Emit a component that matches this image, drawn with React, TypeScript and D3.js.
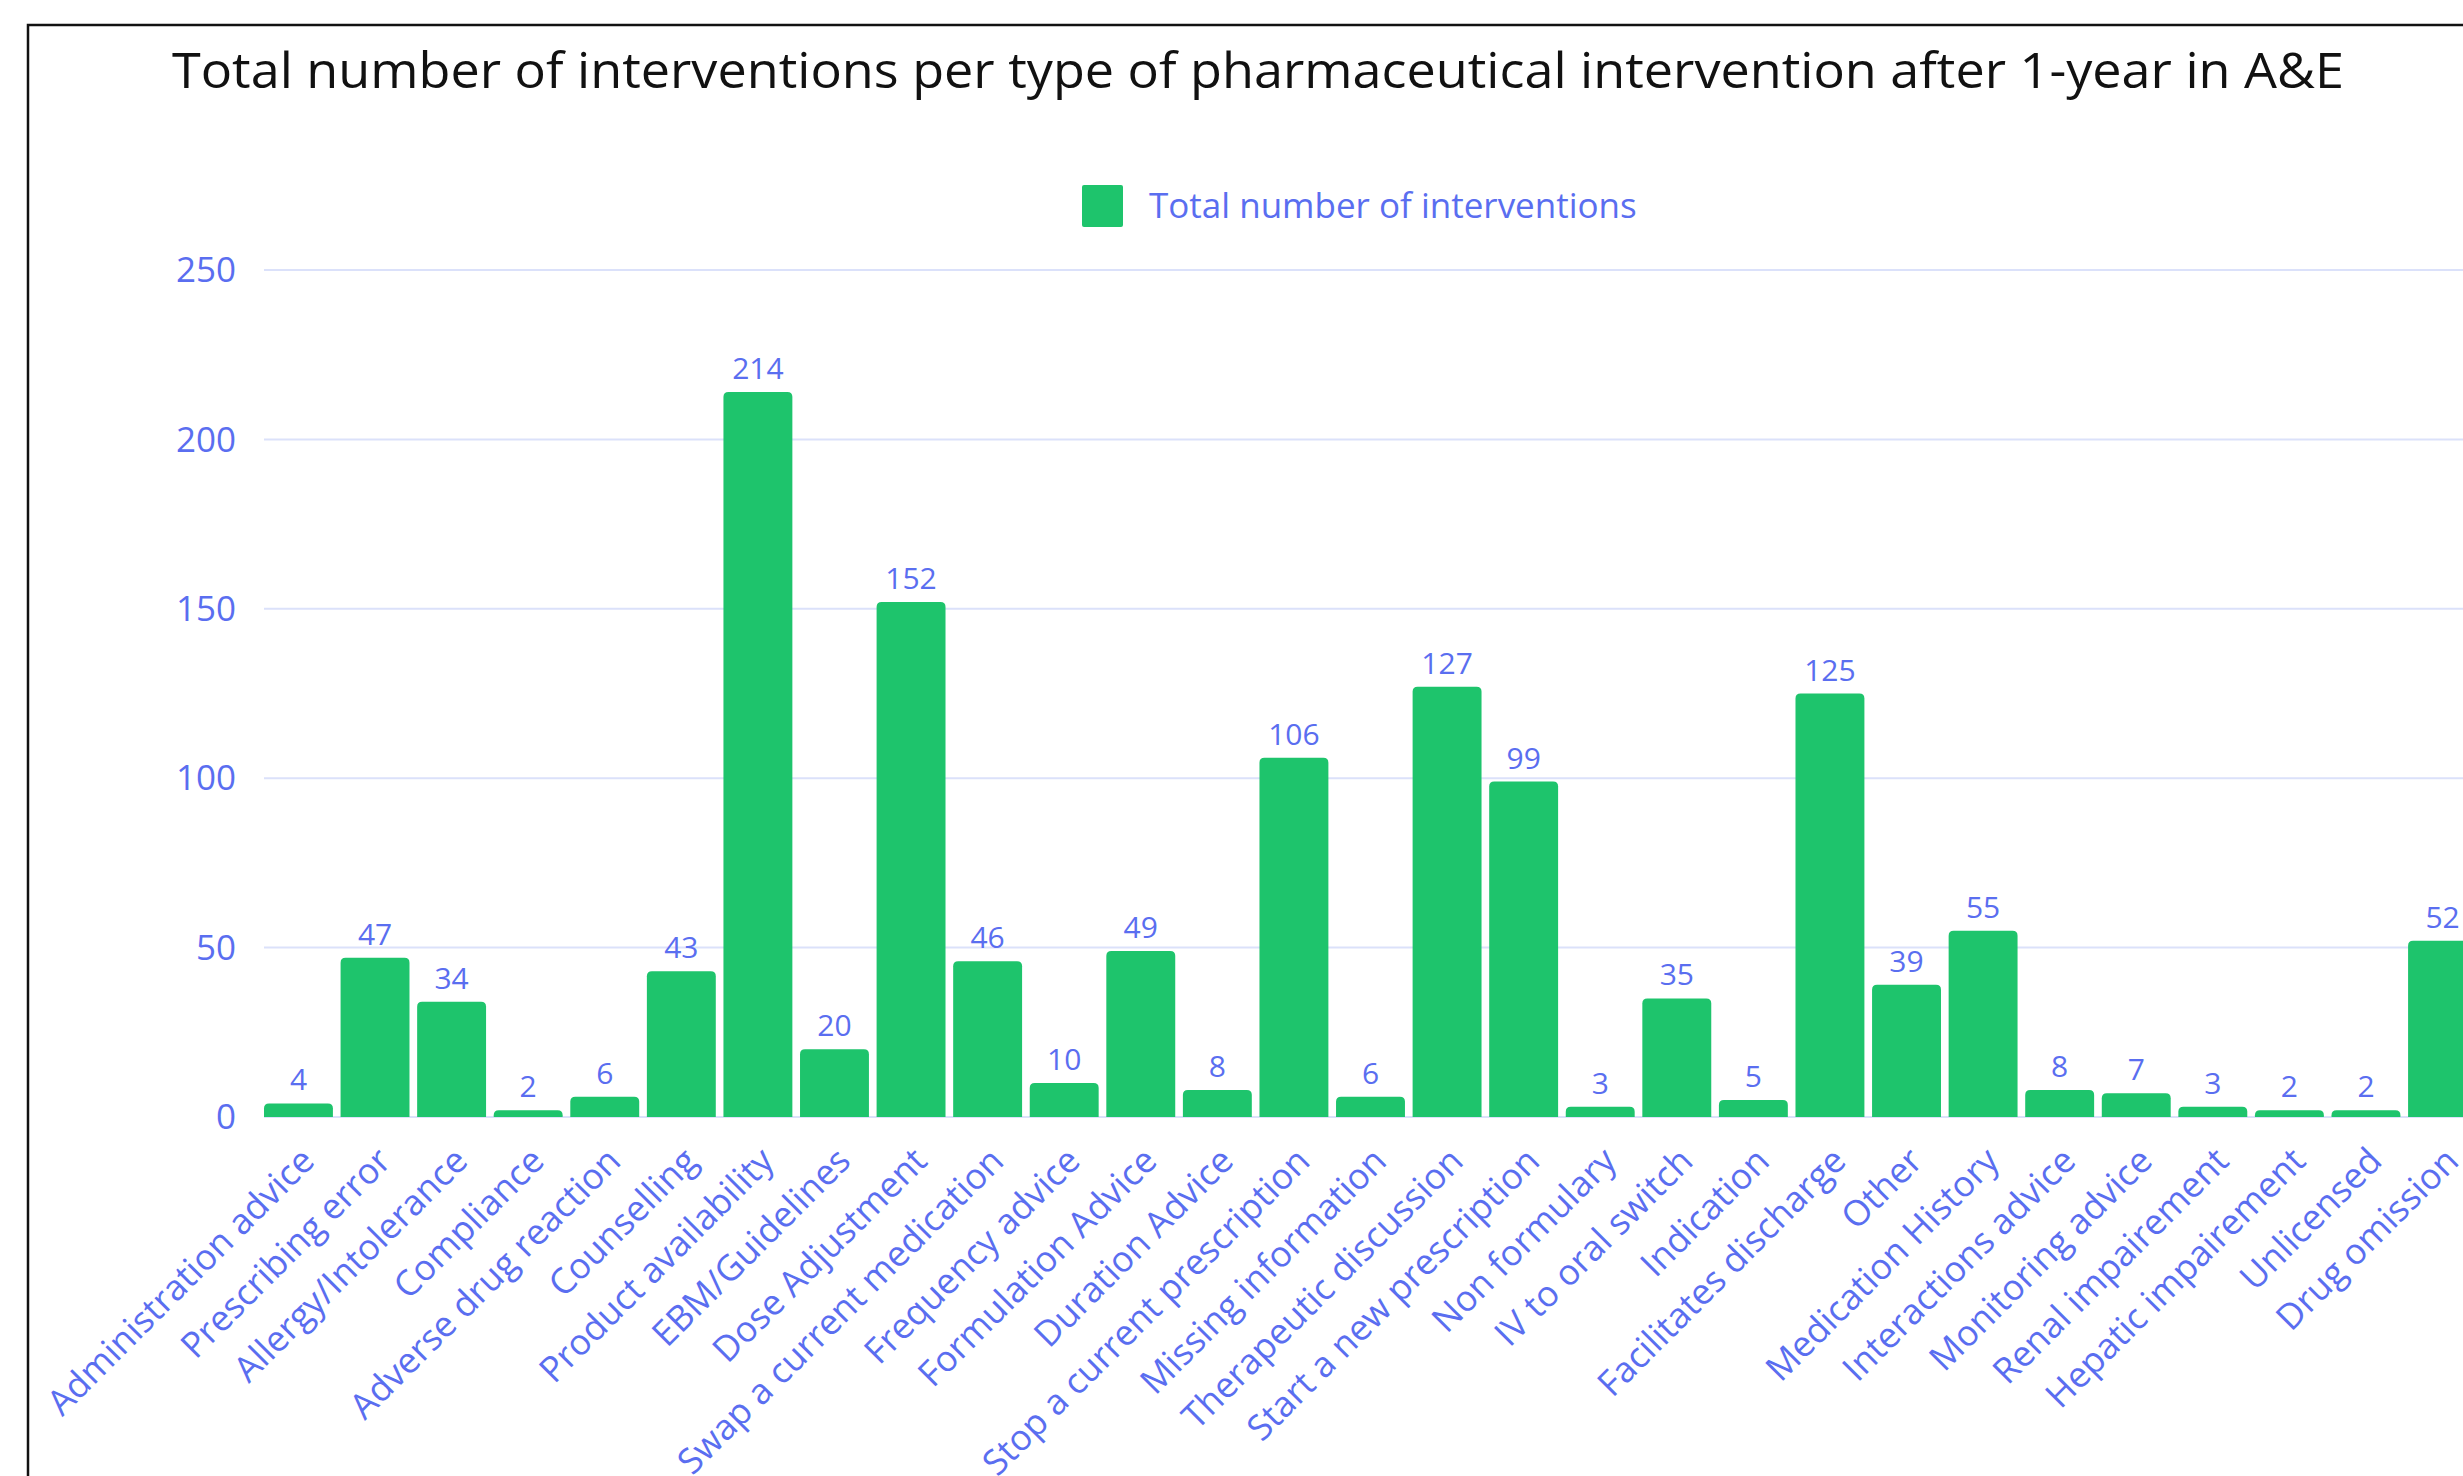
import React from 'react';
import * as d3 from 'd3';

const categories = [
    'Administration advice', 'Prescribing error', 'Allergy/Intolerance', 'Compliance',
    'Adverse drug reaction', 'Counselling', 'Product availability', 'EBM/Guidelines',
    'Dose Adjustment', 'Swap a current medication', 'Frequency advice', 'Formulation Advice',
    'Duration Advice', 'Stop a current prescription', 'Missing information',
    'Therapeutic discussion', 'Start a new prescription', 'Non formulary', 'IV to oral switch',
    'Indication', 'Facilitates discharge', 'Other', 'Medication History', 'Interactions advice',
    'Monitoring advice', 'Renal impairement', 'Hepatic impairement', 'Unlicensed', 'Drug omission'
];

const totals = [
    4, 47, 34, 2, 6, 43, 214, 20, 152, 46, 10, 49, 8, 106, 6,
    127, 99, 3, 35, 5, 125, 39, 55, 8, 7, 3, 2, 2, 52
];

const yTicks = [0, 50, 100, 150, 200, 250];

const seriesName = 'Total number of interventions';
const title = 'Total number of interventions per type of pharmaceutical intervention after 1-year in A&E';

const WIDTH = 2463;
const HEIGHT = 1476;
const GREEN = '#1ec46c';
const BLUE = '#5a6ef0';
const GRID = '#dbe1fa';
const FONT = '"Open Sans", sans-serif';

// bar with rounded top corners only
const topRoundedBar = (x: number, y: number, w: number, h: number, r: number) => {
    const rr = Math.min(r, h, w / 2);
    return `M${x},${y + h}V${y + rr}Q${x},${y} ${x + rr},${y}H${x + w - rr}Q${x + w},${y} ${x + w},${y + rr}V${y + h}Z`;
};

const App: React.FC = () => {
    const x = d3.scaleBand<string>()
        .domain(categories)
        .range([264, 2477])
        .paddingInner(0.1)
        .paddingOuter(0);

    const y = d3.scaleLinear()
        .domain([0, 250])
        .range([1117, 270]);

    return (
        <svg
            width={WIDTH}
            height={HEIGHT}
            style={{ position: 'absolute', left: 0, top: 0, background: '#fff' }}
            fontFamily={FONT}
        >
            <rect x={0} y={0} width={WIDTH} height={HEIGHT} fill="#fff" />
            <rect x={28} y={25} width={WIDTH} height={HEIGHT} fill="none" stroke="#111" strokeWidth={2.5} />

            <text x={172} y={88} fontSize={50} fill="#111" textLength={2172} lengthAdjust="spacingAndGlyphs">
                {title}
            </text>

            {/* legend */}
            <rect x={1082} y={185} width={41} height={42} rx={2} fill={GREEN} />
            <text x={1149} y={218} fontSize={35} fill={BLUE}>{seriesName}</text>

            {/* grid + y axis */}
            {yTicks.map(t => (
                <g key={t}>
                    <line x1={264} x2={WIDTH} y1={y(t)} y2={y(t)} stroke={GRID} strokeWidth={2} />
                    <text x={236} y={y(t)} dy="0.35em" textAnchor="end" fontSize={35} fill={BLUE}>{t}</text>
                </g>
            ))}

            {/* bars */}
            {categories.map((c, i) => {
                const bx = x(c) as number;
                const bw = x.bandwidth();
                const top = y(totals[i]);
                return (
                    <g key={c}>
                        <path d={topRoundedBar(bx, top, bw, y(0) - top, 5)} fill={GREEN} />
                        <text x={bx + bw / 2} y={top - 13} textAnchor="middle" fontSize={30} fill={BLUE}>
                            {totals[i]}
                        </text>
                        <text
                            transform={`translate(${bx + bw / 2 + 18},${y(0) + 46}) rotate(-45)`}
                            textAnchor="end"
                            fontSize={35.5}
                            fill={BLUE}
                        >
                            {c}
                        </text>
                    </g>
                );
            })}
        </svg>
    );
};

export default App;
